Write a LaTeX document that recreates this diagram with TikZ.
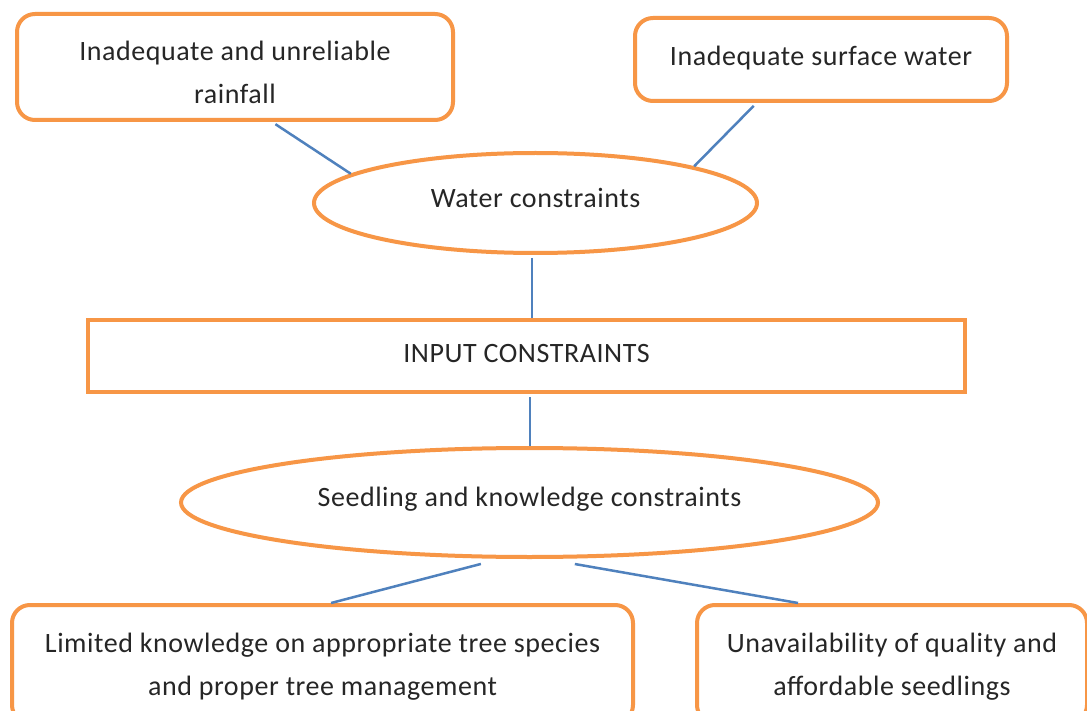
\documentclass[tikz,border=0pt]{standalone}
\usepackage{fontspec}
\setmainfont{Carlito}[LetterSpace=2.0]
\usetikzlibrary{shapes.geometric}
\definecolor{edgeorange}{HTML}{F79646}
\definecolor{linkblue}{HTML}{4F81BD}
\definecolor{inkgray}{HTML}{262626}
\begin{document}
\begin{tikzpicture}[x=1pt,y=-1pt,
  roundbox/.style={draw=edgeorange, line width=4pt, rounded corners=18pt,
    fill=white, inner sep=0pt},
  plainbox/.style={draw=edgeorange, line width=4pt, fill=white, inner sep=0pt},
  oval/.style={draw=edgeorange, line width=4pt, ellipse, fill=white, inner sep=0pt},
  caption/.style={font=\fontsize{28}{43}\selectfont, text=inkgray, align=center,
    inner sep=0pt},
  link/.style={draw=linkblue, line width=2.5pt}]
  \useasboundingbox (0,0) rectangle (1087,711);
  \clip (0,0) rectangle (1087,711);
  \fill[white] (0,0) rectangle (1087,711);

  % upper causes
  \node[roundbox, minimum width=436pt, minimum height=106pt] (rain) at (235,67) {};
  \node[caption] (rain-t) at ([yshift=-5pt]rain.center)
    {Inadequate and unreliable\\rainfall};
  \node[roundbox, minimum width=372pt, minimum height=83pt] (surface) at (821,59.5) {};
  \node[caption] (surface-t) at ([yshift=1pt]surface.center) {Inadequate surface water};

  % water group
  \node[oval, minimum width=443pt, minimum height=100pt] (water) at (535.5,203) {};
  \node[caption] (water-t) at ([yshift=5pt]water.center) {Water constraints};

  % central box
  \node[plainbox, minimum width=877pt, minimum height=72pt] (input) at (526.5,356) {};
  \node[caption] (input-t) at ([yshift=2pt]input.center) {INPUT CONSTRAINTS};

  % seedling group
  \node[oval, minimum width=697pt, minimum height=109pt] (seed) at (529.5,502.5) {};
  \node[caption] (seed-t) at ([yshift=3pt]seed.center) {Seedling and knowledge constraints};

  % lower causes
  \node[roundbox, minimum width=621pt, minimum height=118pt] (know) at (322.5,664) {};
  \node[caption] (know-t) at ([yshift=-3pt]know.center)
    {Limited knowledge on appropriate tree species\\and proper tree management};
  \node[roundbox, minimum width=390pt, minimum height=118pt] (avail) at (892,664) {};
  \node[caption] (avail-t) at ([yshift=-3pt]avail.center)
    {Unavailability of quality and\\affordable seedlings};

  % connectors
  \draw[link, shorten <=4pt] (rain.-56.6) -- (water.171.55);
  \draw[link, shorten <=4pt] (surface.-146.6) -- (water.13.8);
  \draw[link, shorten <=3pt] ([xshift=-3.5pt]water.south) -- ([xshift=5.5pt]input.north);
  \draw[link, shorten <=3pt] ([xshift=3.5pt]input.south) -- ([xshift=0.5pt]seed.north);
  \draw[link] ([yshift=-5.5pt]seed.-131.3) -- (know.82.8);
  \draw[link] ([yshift=-5.5pt]seed.-51.2) -- (avail.147.6);
\end{tikzpicture}
\end{document}
